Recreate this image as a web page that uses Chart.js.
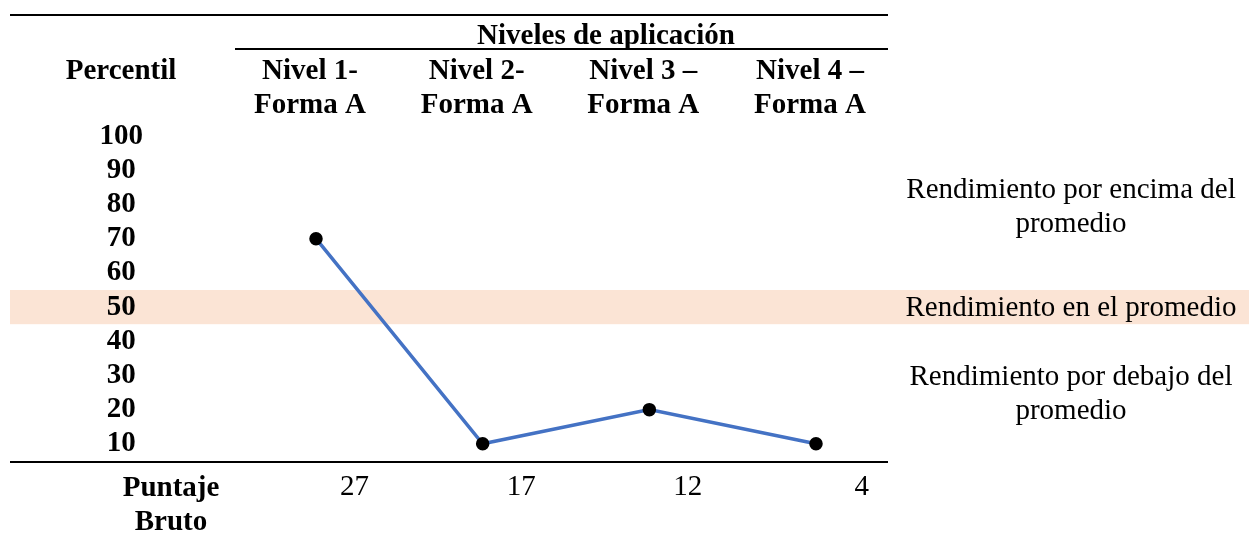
<!DOCTYPE html>
<html>
<head>
<meta charset="utf-8">
<script src="https://cdn.jsdelivr.net/npm/chart.js@4/dist/chart.umd.min.js"></script>
<style>
  html, body { margin: 0; padding: 0; background: #fff; }
  #wrap { width: 1249px; height: 557px; position: relative; }
</style>
</head>
<body>
<div id="wrap"><canvas id="myChart"></canvas></div>
<script>
const niveles = [['Nivel 1-', 'Forma A'], ['Nivel 2-', 'Forma A'], ['Nivel 3 –', 'Forma A'], ['Nivel 4 –', 'Forma A']];
const percentiles = [70, 10, 20, 10];
const puntajeBruto = [27, 17, 12, 4];
const yTicks = [100, 90, 80, 70, 60, 50, 40, 30, 20, 10];
const bandaPromedio = [45, 55];
const textoEncima = ['Rendimiento por encima del', 'promedio'];
const textoPromedio = ['Rendimiento en el promedio'];
const textoDebajo = ['Rendimiento por debajo del', 'promedio'];

const serif = '"Liberation Serif", "Times New Roman", serif';
const bold = 'bold 29px ' + serif;
const normal = '29px ' + serif;

const tabla = {
    id: 'tabla',
    beforeDraw(chart) {
        const c = chart.ctx;
        const y = chart.scales.y;
        c.save();
        c.fillStyle = '#FBE4D5';
        const top = y.getPixelForValue(bandaPromedio[1]);
        const bot = y.getPixelForValue(bandaPromedio[0]);
        c.fillRect(10, top, chart.width - 10, bot - top);
        c.restore();
    },
    afterDraw(chart) {
        const c = chart.ctx;
        const x = chart.scales.x;
        const y = chart.scales.y;
        c.save();
        c.fillStyle = '#000';
        c.strokeStyle = '#000';

        // lineas de la tabla
        c.lineWidth = 2;
        c.beginPath();
        c.moveTo(10, 15); c.lineTo(888, 15);
        c.moveTo(235, 49); c.lineTo(888, 49);
        c.moveTo(10, 462); c.lineTo(888, 462);
        c.stroke();

        c.font = bold;
        c.textAlign = 'center';
        c.textBaseline = 'alphabetic';
        c.fillText('Niveles de aplicación', 606, 44);
        c.fillText('Percentil', 121, 79);
        niveles.forEach((lab, i) => {
            const px = x.getPixelForValue(i) - 6;
            c.fillText(lab[0], px, 79);
            c.fillText(lab[1], px, 113);
        });

        c.fillText('Puntaje', 171, 496);
        c.fillText('Bruto', 171, 530);
        c.font = normal;
        c.textAlign = 'right';
        puntajeBruto.forEach((v, i) => {
            c.fillText(String(v), x.getPixelForValue(i) + 53, 495);
        });

        // textos de la derecha
        c.textAlign = 'center';
        const cx = 1071;
        const y1 = y.getPixelForValue(80);
        textoEncima.forEach((t, i) => c.fillText(t, cx, y1 - 7 + i * 34));
        const y2 = y.getPixelForValue(50);
        textoPromedio.forEach((t, i) => c.fillText(t, cx, y2 + 9 + i * 34));
        const y3 = y.getPixelForValue(30);
        textoDebajo.forEach((t, i) => c.fillText(t, cx, y3 + 10 + i * 34));
        c.restore();
    }
};

new Chart(document.getElementById('myChart'), {
    type: 'line',
    data: {
        labels: niveles,
        datasets: [{
            label: 'Percentil',
            data: percentiles,
            borderColor: '#4472C4',
            borderWidth: 3.5,
            pointBackgroundColor: '#000',
            pointBorderColor: '#000',
            pointRadius: 5,
            tension: 0,
            clip: false
        }]
    },
    options: {
        responsive: true,
        maintainAspectRatio: false,
        animation: false,
        layout: { padding: { left: 10, right: 433, top: 102, bottom: 79 } },
        plugins: { legend: { display: false }, tooltip: { enabled: false } },
        scales: {
            x: { display: false, offset: false },
            y: {
                min: 0,
                max: 110,
                grid: { display: false, drawTicks: false },
                border: { display: false },
                afterBuildTicks: (s) => { s.ticks = yTicks.map(v => ({ value: v })); },
                afterFit: (s) => { s.width = 306; s.paddingTop = 0; s.paddingBottom = 0; },
                ticks: {
                    autoSkip: false,
                    crossAlign: 'center',
                    padding: 173,
                    color: '#000',
                    font: { family: serif, size: 29, weight: 'bold' }
                }
            }
        }
    },
    plugins: [tabla]
});
</script>
</body>
</html>
